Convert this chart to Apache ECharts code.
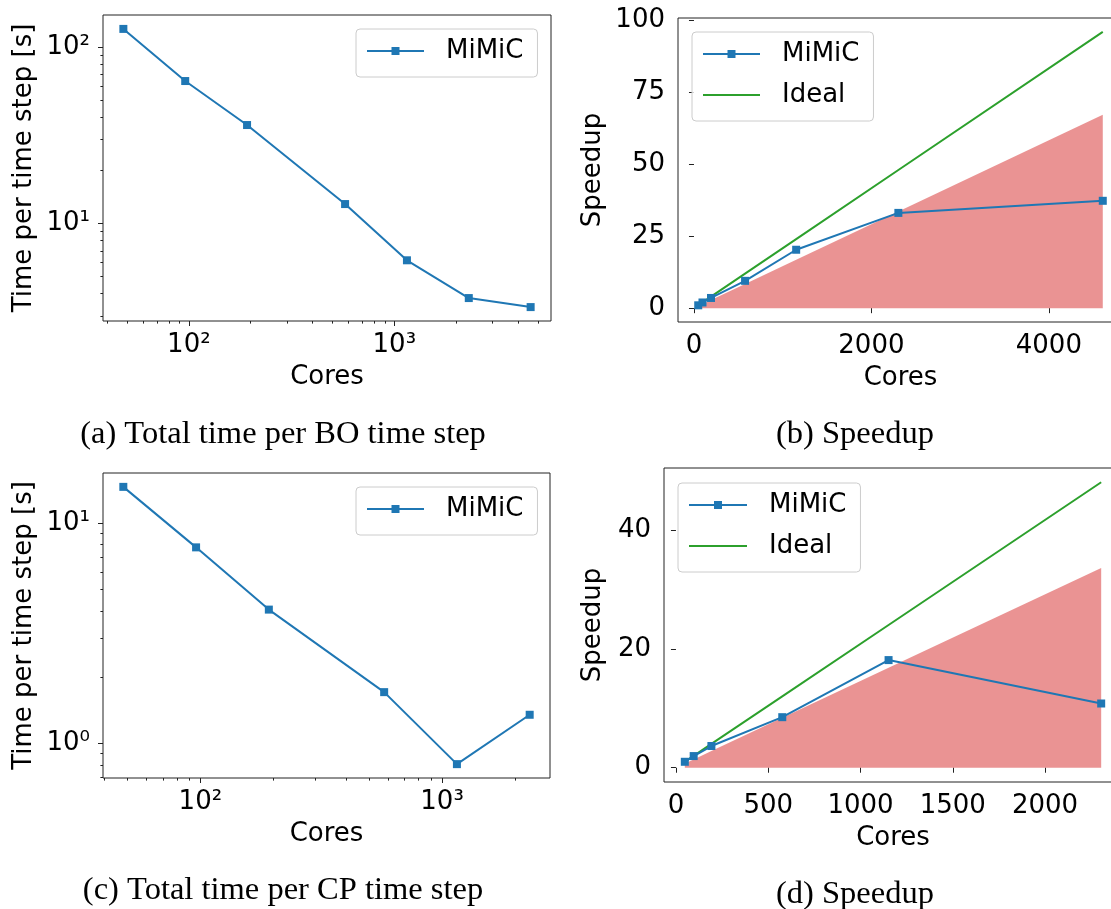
<!DOCTYPE html>
<html><head><meta charset="utf-8">
<script src="https://cdn.jsdelivr.net/npm/echarts@6/dist/echarts.min.js"></script>
<style>html,body{margin:0;padding:0;background:#fff}#c{width:1111px;height:909px}</style>
</head><body><div id="c"></div>
<script>
// ---------------- data ----------------
const coresA   = [48, 96, 192, 576, 1152, 2304, 4608];
const timeA    = [127, 64.3, 36.2, 12.9, 6.19, 3.78, 3.36];
const speedupB = [1, 1.98, 3.55, 9.5, 20.3, 33.1, 37.3];
const idealB   = [1, 2, 4, 12, 24, 48, 96];
const fillB    = [0.7, 1.4, 2.8, 8.4, 16.8, 33.6, 67.2];

const coresC   = [48, 96, 192, 576, 1152, 2304];
const timeC    = [14.6, 7.76, 4.05, 1.71, 0.806, 1.35];
const speedupD = [1, 1.96, 3.65, 8.5, 18.1, 10.8];
const idealD   = [1, 2, 4, 12, 24, 48];
const fillD    = [0.7, 1.4, 2.8, 8.4, 16.8, 33.6];

const ticksAx = [100, 1000];
const ticksAy = [10, 100];
const ticksBx = [0, 2000, 4000];
const ticksBy = [0, 25, 50, 75, 100];
const ticksCx = [100, 1000];
const ticksCy = [1, 10];
const ticksDx = [0, 500, 1000, 1500, 2000];
const ticksDy = [0, 20, 40];

const captions = ['(a) Total time per BO time step', '(b) Speedup',
                  '(c) Total time per CP time step', '(d) Speedup'];
const seriesNames = ['MiMiC', 'Ideal'];

// ---------------- helpers ----------------
const FONT = 'DejaVu Sans';
const BLUE = '#1f77b4', GREEN = '#2ca02c', RED = '#d62728';
const zip = (xs, ys) => xs.map((x, i) => [x, ys[i]]);
function linLim(arrs) {
  const all = [].concat(...arrs);
  const lo = Math.min(...all), hi = Math.max(...all), m = (hi - lo) * 0.05;
  return [lo - m, hi + m];
}
function logLim(arrs) {
  const all = [].concat(...arrs).map(Math.log10);
  const lo = Math.min(...all), hi = Math.max(...all), m = (hi - lo) * 0.05;
  return [Math.pow(10, lo - m), Math.pow(10, hi + m)];
}
const supMap = {'0':'⁰','1':'¹','2':'²','3':'³','4':'⁴','-':'⁻'};
function logFmt(v) {
  const e = Math.round(Math.log10(v));
  return '10' + String(e).split('').map(c => supMap[c]).join('');
}
function minorLog(lim) {
  const out = [];
  for (let e = -2; e < 5; e++) for (let k = 2; k < 10; k++) {
    const v = k * Math.pow(10, e);
    if (v >= lim[0] && v <= lim[1]) out.push(v);
  }
  return out;
}

const grids = [
  {left: 103, top: 15,  width: 448, height: 306},
  {left: 678, top: 18,  width: 445, height: 304},
  {left: 103, top: 473, width: 447, height: 305},
  {left: 664, top: 468, width: 458, height: 314}
];

const tickLine = {color: '#222', width: 1};
function mainAxis(dim, gi, type, lim, ticks, name, nameGap, fmt) {
  return {
    gridIndex: gi, type: type, min: lim[0], max: lim[1],
    position: dim === 'x' ? 'bottom' : 'left',
    axisLine: {show: false},
    axisTick: {show: true, length: 5, lineStyle: tickLine, customValues: ticks},
    axisLabel: {customValues: ticks, formatter: fmt, fontSize: 26, fontFamily: FONT,
                color: '#000', margin: dim === 'x' ? 11 : 13},
    splitLine: {show: false}, minorTick: {show: false},
    name: name, nameLocation: 'middle', nameGap: nameGap,
    nameTextStyle: {fontSize: 26, fontFamily: FONT, color: '#000'}
  };
}
function minorAxis(dim, gi, lim) {
  return {
    gridIndex: gi, type: 'log', min: lim[0], max: lim[1],
    position: dim === 'x' ? 'bottom' : 'left',
    axisLine: {show: false},
    axisTick: {show: true, length: 2.6, lineStyle: tickLine, customValues: minorLog(lim)},
    axisLabel: {show: false}, splitLine: {show: false}
  };
}

const xlimA = logLim([coresA]), ylimA = logLim([timeA]);
const xlimB = linLim([coresA]), ylimB = linLim([speedupB, idealB, fillB, [0]]);
const xlimC = logLim([coresC]), ylimC = logLim([timeC]);
const xlimD = linLim([coresC]), ylimD = linLim([speedupD, idealD, fillD, [0]]);

const linFmt = v => String(v);
const xAxis = [
  mainAxis('x', 0, 'log', xlimA, ticksAx, 'Cores', 43, logFmt),
  mainAxis('x', 1, 'value', xlimB, ticksBx, 'Cores', 43, linFmt),
  mainAxis('x', 2, 'log', xlimC, ticksCx, 'Cores', 43, logFmt),
  mainAxis('x', 3, 'value', xlimD, ticksDx, 'Cores', 43, linFmt),
  minorAxis('x', 0, xlimA),
  minorAxis('x', 2, xlimC)
];
const yAxis = [
  mainAxis('y', 0, 'log', ylimA, ticksAy, 'Time per time step [s]', 66, logFmt),
  mainAxis('y', 1, 'value', ylimB, ticksBy, 'Speedup', 72, linFmt),
  mainAxis('y', 2, 'log', ylimC, ticksCy, 'Time per time step [s]', 66, logFmt),
  mainAxis('y', 3, 'value', ylimD, ticksDy, 'Speedup', 58, linFmt),
  minorAxis('y', 0, ylimA),
  minorAxis('y', 2, ylimC)
];

function mimic(i, data) {
  return {type: 'line', name: seriesNames[0], xAxisIndex: i, yAxisIndex: i, data: data,
          symbol: 'rect', symbolSize: 8, z: 4,
          lineStyle: {color: BLUE, width: 2}, itemStyle: {color: BLUE}};
}
function ideal(i, data) {
  return {type: 'line', name: seriesNames[1], xAxisIndex: i, yAxisIndex: i, data: data,
          symbol: 'none', z: 3, lineStyle: {color: GREEN, width: 2}, itemStyle: {color: GREEN}};
}
function band(i, data) {
  return {type: 'line', name: 'band' + i, xAxisIndex: i, yAxisIndex: i, data: data,
          symbol: 'none', z: 1, lineStyle: {width: 0, opacity: 0},
          areaStyle: {color: RED, opacity: 0.5}};
}
const series = [
  mimic(0, zip(coresA, timeA)),
  band(1, zip(coresA, fillB)), mimic(1, zip(coresA, speedupB)), ideal(1, zip(coresA, idealB)),
  mimic(2, zip(coresC, timeC)),
  band(3, zip(coresC, fillD)), mimic(3, zip(coresC, speedupD)), ideal(3, zip(coresC, idealD))
];

function legend(left, top, names, itemWidth) {
  return {
    left: left, top: top, orient: 'vertical',
    data: names.map(n => n === 'Ideal' ? {name: n, itemStyle: {opacity: 0}} : {name: n}),
    itemWidth: itemWidth, itemHeight: 10, itemGap: 11,
    padding: [7, 14, 11, 10],
    backgroundColor: 'rgba(255,255,255,0.8)', borderColor: '#cccccc', borderWidth: 1, borderRadius: 4,
    textStyle: {fontSize: 26, fontFamily: FONT, color: '#000', lineHeight: 30, padding: [0, 0, 0, 17]},
    selectedMode: false
  };
}

const captionPos = [[283, 434], [855, 434], [283, 890], [855, 894]];
const graphic = captions.map((t, i) => ({
  type: 'text', x: captionPos[i][0], y: captionPos[i][1],
  style: {text: t, font: '32.5px "Liberation Serif"', fill: '#000',
          textAlign: 'center', textVerticalAlign: 'middle', align: 'center', verticalAlign: 'middle'}
}));

const chart = echarts.init(document.getElementById('c'), null, {renderer: 'canvas'});
chart.setOption({
  animation: false,
  backgroundColor: '#fff',
  grid: grids.map(g => Object.assign({show: true, borderColor: '#222', borderWidth: 1,
                    backgroundColor: 'transparent', containLabel: false, outerBoundsMode: 'none'}, g)),
  xAxis: xAxis, yAxis: yAxis, series: series,
  legend: [
    legend(356, 29, [seriesNames[0]], 57),
    legend(692, 32, seriesNames, 57),
    legend(356, 487, [seriesNames[0]], 57),
    legend(678, 483, seriesNames, 58)
  ],
  graphic: graphic
});
</script></body></html>
